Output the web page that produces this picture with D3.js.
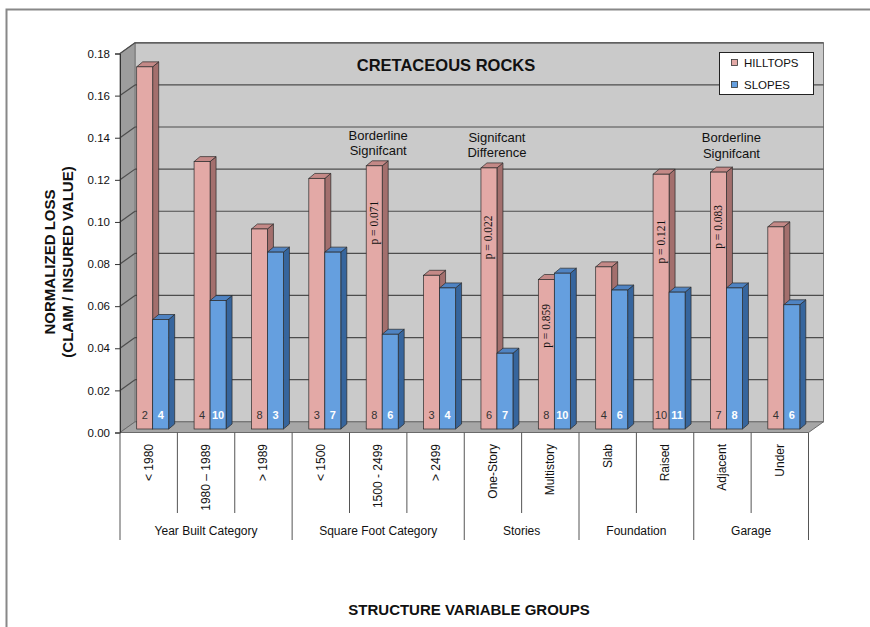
<!DOCTYPE html>
<meta charset="utf-8">
<script src="https://d3js.org/d3.v7.min.js"></script>
<style>
  body { margin: 0; background: #fff; }
  text { font-family: Arial, "Liberation Sans", sans-serif; }
</style>
<div id="chart"></div>
<script>

// categories along the x axis
var categories = ["< 1980", "1980 – 1989", "> 1989", "< 1500", "1500 - 2499", "> 2499",
                  "One-Story", "Multistory", "Slab", "Raised", "Adjacent", "Under"];
var groupNames = ["Year Built Category", "Square Foot Category", "Stories", "Foundation", "Garage"];
var groupSizes = [3, 3, 2, 2, 2];

// normalized loss per category
var hilltops = [0.172, 0.127, 0.095, 0.119, 0.125, 0.073, 0.124, 0.071, 0.077, 0.121, 0.122, 0.096];
var slopes   = [0.052, 0.061, 0.084, 0.084, 0.045, 0.067, 0.036, 0.074, 0.066, 0.065, 0.067, 0.059];

// sample counts printed at the foot of each bar
var hilltopCounts = [2, 4, 8, 3, 8, 3, 6, 8, 4, 10, 7, 4];
var slopeCounts   = [4, 10, 3, 7, 6, 4, 7, 10, 6, 11, 8, 6];

// p-values written on the hilltop bars (mid = value where the text is centred)
var pCats  = ["1500 - 2499", "One-Story", "Multistory", "Raised", "Adjacent"];
var pTexts = ["p = 0.071", "p = 0.022", "p = 0.859", "p = 0.121", "p = 0.083"];
var pMids  = [0.098, 0.091, 0.049, 0.089, 0.096];

// notes above some bars
var noteCats  = ["1500 - 2499", "One-Story", "Adjacent"];
var noteLines = [["Borderline", "Signifcant"], ["Signifcant", "Difference"], ["Borderline", "Signifcant"]];

var yTicks = [0, 0.02, 0.04, 0.06, 0.08, 0.10, 0.12, 0.14, 0.16, 0.18];
var series = ["HILLTOPS", "SLOPES"];

var W = 870, H = 627;
var colors = {
  HILLTOPS: {front: "#e3a9a6", side: "#a36f6d", top: "#c48987"},
  SLOPES:   {front: "#659fdf", side: "#36659d", top: "#4f83c2"}
};

var svg = d3.select("#chart").append("svg")
  .attr("width", W).attr("height", H);

// outer frame
svg.append("path").attr("d", "M6.5,627 V9.5 H870").attr("fill", "none")
  .attr("stroke", "#888").attr("stroke-width", 2);

var x = d3.scaleBand().domain(categories).range([120, 808.5]);
var xBar = d3.scaleBand().domain(series).range([16.7, 48.7]);
var y = d3.scaleLinear().domain([0, 0.18]).range([432.5, 53.5]);

// depth of the walls and of the bars
var wdx = 15, wdy = -10.7;
var bdy = -3.5;
var sdx = 6, sdy = -5;

var x0 = x.range()[0], x1 = x.range()[1];
var yTop = y(0.18), yBot = y(0);

// back wall
svg.append("rect")
  .attr("x", x0 + wdx).attr("y", yTop + wdy)
  .attr("width", x1 - x0).attr("height", yBot - yTop)
  .attr("fill", "#cacaca").attr("stroke", "#777").attr("stroke-width", 1);

// left wall
svg.append("path")
  .attr("d", "M" + x0 + "," + yBot + " L" + (x0 + wdx) + "," + (yBot + wdy) +
             " L" + (x0 + wdx) + "," + (yTop + wdy) + " L" + x0 + "," + yTop + "Z")
  .attr("fill", "#9d9d9d").attr("stroke", "#777").attr("stroke-width", 1);

// floor
svg.append("path")
  .attr("d", "M" + x0 + "," + yBot + " L" + (x0 + wdx) + "," + (yBot + wdy) +
             " L" + (x1 + wdx) + "," + (yBot + wdy) + " L" + x1 + "," + yBot + "Z")
  .attr("fill", "#a6a6a6").attr("stroke", "#6a6a6a").attr("stroke-width", 1);

// gridlines on back wall and left wall
var grid = svg.append("g").attr("stroke", "#4d4d4d").attr("stroke-width", 1.2);
yTicks.slice(1).forEach(function(v) {
  grid.append("line")
    .attr("x1", x0 + wdx).attr("x2", x1 + wdx)
    .attr("y1", y(v) + wdy).attr("y2", y(v) + wdy);
  grid.append("line")
    .attr("x1", x0).attr("x2", x0 + wdx)
    .attr("y1", y(v)).attr("y2", y(v) + wdy);
});

// y axis
var yAxis = svg.append("g")
  .attr("transform", "translate(" + x0 + ",0)")
  .call(d3.axisLeft(y).tickValues(yTicks).tickFormat(d3.format(".2f")).tickSize(5).tickPadding(5));
yAxis.select(".domain").attr("stroke", "#333");
yAxis.selectAll(".tick line").attr("stroke", "#333");
yAxis.selectAll("text").attr("fill", "#111").style("font-size", "11.5px")
  .style("font-family", "Arial, 'Liberation Sans', sans-serif");

// title and legend
svg.append("text").attr("x", 446).attr("y", 71).attr("text-anchor", "middle")
  .style("font-size", "16.5px").style("font-weight", "bold").attr("fill", "#111")
  .text("CRETACEOUS ROCKS");

var legend = svg.append("g");
legend.append("rect").attr("x", 719.5).attr("y", 52.5).attr("width", 94).attr("height", 42)
  .attr("fill", "#fff").attr("stroke", "#222");
series.forEach(function(s, i) {
  legend.append("rect").attr("x", 731.5).attr("y", 59.5 + i * 22).attr("width", 6).attr("height", 6)
    .attr("fill", colors[s].front).attr("stroke", "#333").attr("stroke-width", 0.8);
  legend.append("text").attr("x", 744).attr("y", 66.5 + i * 22)
    .style("font-size", "11.5px").attr("fill", "#111").text(s);
});

// bars
var rows = categories.map(function(c, i) {
  return [
    {cat: c, key: "HILLTOPS", value: hilltops[i], n: hilltopCounts[i]},
    {cat: c, key: "SLOPES", value: slopes[i], n: slopeCounts[i]}
  ];
});

var bw = xBar.bandwidth();
var bars = svg.append("g").selectAll("g")
  .data(rows).enter().append("g")
  .attr("transform", function(d) { return "translate(" + x(d[0].cat) + ",0)"; })
  .selectAll("g").data(function(d) { return d; }).enter().append("g");

bars.append("path") // side face
  .attr("d", function(d) {
    var l = xBar(d.key) + bw, t = y(d.value) + bdy, b = y(0) + bdy;
    return "M" + l + "," + t + " L" + (l + sdx) + "," + (t + sdy) + " L" + (l + sdx) + "," + (b + sdy) +
           " L" + l + "," + b + "Z";
  })
  .attr("fill", function(d) { return colors[d.key].side; })
  .attr("stroke", "#2a2a2a").attr("stroke-width", 0.7);

bars.append("path") // top face
  .attr("d", function(d) {
    var l = xBar(d.key), t = y(d.value) + bdy;
    return "M" + l + "," + t + " L" + (l + sdx) + "," + (t + sdy) + " L" + (l + bw + sdx) + "," + (t + sdy) +
           " L" + (l + bw) + "," + t + "Z";
  })
  .attr("fill", function(d) { return colors[d.key].top; })
  .attr("stroke", "#2a2a2a").attr("stroke-width", 0.7);

bars.append("rect") // front face
  .attr("x", function(d) { return xBar(d.key); })
  .attr("y", function(d) { return y(d.value) + bdy; })
  .attr("width", bw)
  .attr("height", function(d) { return y(0) - y(d.value); })
  .attr("fill", function(d) { return colors[d.key].front; })
  .attr("stroke", "#2a2a2a").attr("stroke-width", 0.7);

bars.append("text") // counts
  .attr("x", function(d) { return xBar(d.key) + bw / 2; })
  .attr("y", y(0) + bdy - 10)
  .attr("text-anchor", "middle")
  .style("font-size", "11px")
  .style("font-weight", function(d) { return d.key == "SLOPES" ? "bold" : "normal"; })
  .attr("fill", function(d) { return d.key == "SLOPES" ? "#fff" : "#333"; })
  .text(function(d) { return d.n; });

// p-values
pCats.forEach(function(c, i) {
  var cx = x(c) + xBar("HILLTOPS") + bw / 2 + 3.5;
  svg.append("text")
    .attr("transform", "translate(" + cx + "," + (y(pMids[i]) + bdy) + ") rotate(-90)")
    .attr("text-anchor", "middle")
    .style("font-family", "'Times New Roman', 'Liberation Serif', serif")
    .style("font-size", "11.5px").attr("fill", "#111")
    .text(pTexts[i]);
});

// notes
var noteDx = [0, 4, 9];
var noteY = [139.5, 141.5, 142];
noteCats.forEach(function(c, i) {
  var t = svg.append("text")
    .attr("text-anchor", "middle")
    .style("font-size", "13px").attr("fill", "#111");
  noteLines[i].forEach(function(line, j) {
    t.append("tspan")
      .attr("x", x(c) + x.bandwidth() / 2 + noteDx[i])
      .attr("y", noteY[i] + j * 15.5)
      .text(line);
  });
});

// category labels and dividers
var groupEdges = [0];
groupSizes.forEach(function(n, i) { groupEdges.push(groupEdges[i] + n); });

var edges = categories.map(function(c) { return x(c); }).concat([x1]);
edges.forEach(function(ex, i) {
  var isGroup = groupEdges.indexOf(i) >= 0;
  svg.append("line")
    .attr("x1", ex).attr("x2", ex)
    .attr("y1", yBot).attr("y2", isGroup ? 540 : 513)
    .attr("stroke", "#555").attr("stroke-width", 1);
});

categories.forEach(function(c) {
  svg.append("text")
    .attr("transform", "translate(" + (x(c) + x.bandwidth() / 2 + 4) + ",444) rotate(-90)")
    .attr("text-anchor", "end")
    .style("font-size", "12px").attr("fill", "#111")
    .text(c);
});

groupNames.forEach(function(g, i) {
  var a = edges[groupEdges[i]], b = edges[groupEdges[i + 1]];
  svg.append("text")
    .attr("x", (a + b) / 2).attr("y", 535)
    .attr("text-anchor", "middle")
    .style("font-size", "12px").attr("fill", "#111")
    .text(g);
});

// axis titles
svg.append("text")
  .attr("transform", "translate(55,262) rotate(-90)")
  .attr("text-anchor", "middle")
  .style("font-size", "15px").style("font-weight", "bold").attr("fill", "#111")
  .text("NORMALIZED LOSS");
svg.append("text")
  .attr("transform", "translate(73,262) rotate(-90)")
  .attr("text-anchor", "middle")
  .style("font-size", "15px").style("font-weight", "bold").attr("fill", "#111")
  .text("(CLAIM / INSURED VALUE)");

svg.append("text")
  .attr("x", 469).attr("y", 615)
  .attr("text-anchor", "middle")
  .style("font-size", "15px").style("font-weight", "bold").attr("fill", "#111")
  .text("STRUCTURE VARIABLE GROUPS");

</script>
